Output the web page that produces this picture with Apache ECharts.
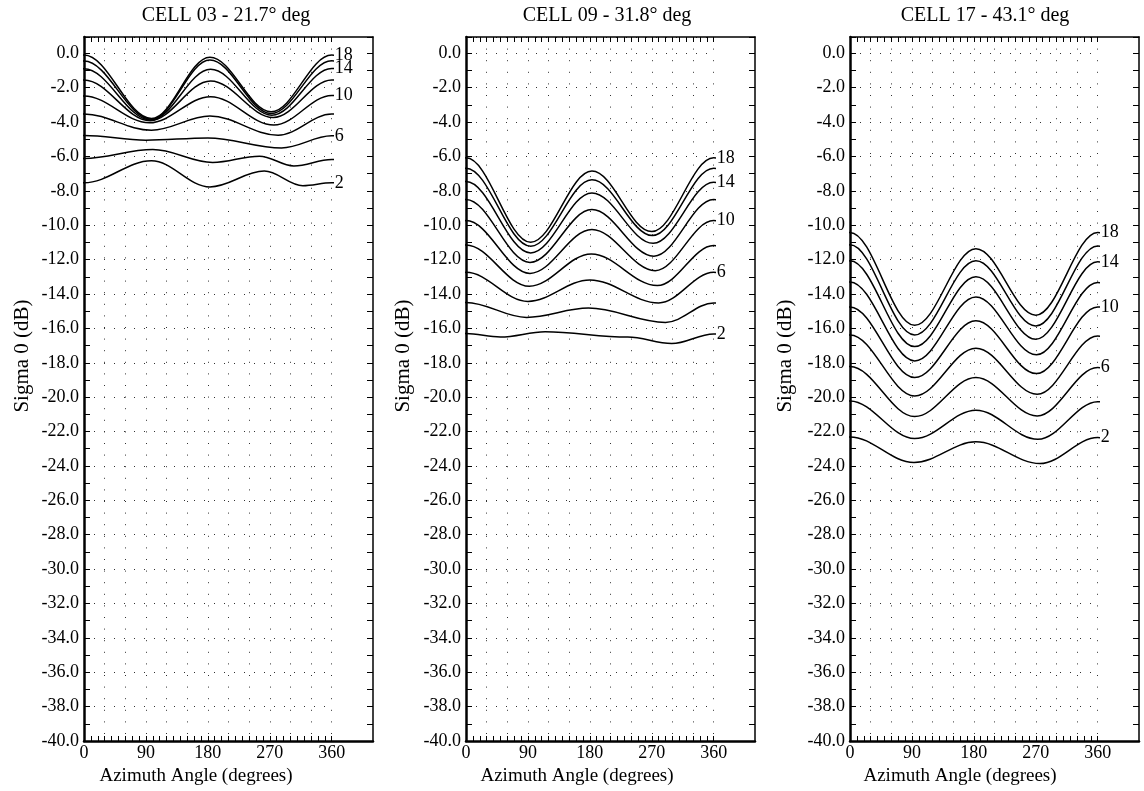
<!DOCTYPE html>
<html>
<head>
<meta charset="utf-8">
<script src="https://cdn.jsdelivr.net/npm/echarts@6/dist/echarts.min.js"></script>
<style>
html,body{margin:0;padding:0;background:#fff;}
#chart{width:1144px;height:791px;}
</style>
</head>
<body>
<div id="chart"></div>
<script>
// ---------- data ----------
const windSpeeds = [2, 4, 6, 8, 10, 12, 14, 16, 18];
const labeledWinds = [2, 6, 10, 14, 18];
const panelTitles = ['CELL 03 - 21.7\u00b0 deg', 'CELL 09 - 31.8\u00b0 deg', 'CELL 17 - 43.1\u00b0 deg'];
const xLabelValues = [0, 90, 180, 270, 360];
const xMinorTickValues = [0,10,20,30,40,50,60,70,80,90,100,110,120,130,140,150,160,170,180,190,200,210,220,230,240,250,260,270,280,290,300,310,320,330,340,350,360];
const yLabelStep = 2;

// CELL 03 : azimuth (deg) / sigma0 (dB) readings, one row per wind speed (2..18)
const cell03Az = [
  [0, 98, 183, 262, 318, 360],
  [0, 100, 187, 255, 305, 360],
  [0, 90, 180, 287, 360],
  [0, 98, 183, 282, 360],
  [0, 95, 184, 276, 360],
  [0, 96, 184, 275, 360],
  [0, 97, 184, 273, 360],
  [0, 98, 183, 272, 360],
  [0, 98, 183, 272, 360]
];
const cell03Db = [
  [-7.53, -6.25, -7.77, -6.85, -7.7, -7.53],
  [-6.12, -5.6, -6.35, -5.98, -6.55, -6.17],
  [-4.78, -5.05, -4.92, -5.5, -4.8],
  [-3.53, -4.47, -3.65, -4.76, -3.53],
  [-2.48, -4.04, -2.52, -4.17, -2.45],
  [-1.55, -3.92, -1.61, -3.73, -1.55],
  [-0.9, -3.88, -0.93, -3.6, -0.88],
  [-0.45, -3.83, -0.39, -3.5, -0.43],
  [-0.1, -3.79, -0.23, -3.4, -0.1]
];

// CELL 09
const cell09Az = [
  [0, 50, 115, 235, 299, 360],
  [0, 88, 178, 290, 360],
  [0, 90, 180, 280, 360],
  [0, 92, 182, 278, 360],
  [0, 93, 183, 275, 360],
  [0, 93, 183, 273, 360],
  [0, 94, 183, 272, 360],
  [0, 94, 183, 271, 360],
  [0, 94, 183, 270, 360]
];
const cell09Db = [
  [-16.3, -16.5, -16.2, -16.5, -16.88, -16.32],
  [-14.49, -15.36, -14.82, -15.65, -14.52],
  [-12.74, -14.43, -13.18, -14.52, -12.74],
  [-11.15, -13.55, -11.67, -13.51, -11.18],
  [-9.73, -12.8, -10.25, -12.64, -9.73],
  [-8.5, -12.16, -9.09, -11.8, -8.5],
  [-7.46, -11.61, -8.12, -11.05, -7.5],
  [-6.68, -11.22, -7.36, -10.6, -6.68],
  [-6.08, -10.99, -6.85, -10.37, -6.08]
];

// CELL 17
const cell17Az = [
  [0, 93, 183, 276, 360],
  [0, 94, 183, 273, 360],
  [0, 94, 183, 272, 360],
  [0, 94, 183, 272, 360],
  [0, 94, 183, 271, 360],
  [0, 94, 183, 271, 360],
  [0, 94, 183, 270, 360],
  [0, 94, 183, 270, 360],
  [0, 94, 183, 270, 360]
];
const cell17Db = [
  [-22.31, -23.8, -22.6, -23.86, -22.35],
  [-20.22, -22.41, -20.76, -22.45, -20.26],
  [-18.22, -21.13, -18.86, -21.09, -18.28],
  [-16.38, -19.93, -17.15, -19.83, -16.44],
  [-14.75, -18.86, -15.56, -18.63, -14.75],
  [-13.3, -17.89, -14.17, -17.54, -13.33],
  [-12.07, -17.06, -13.0, -16.63, -12.13],
  [-11.14, -16.38, -12.07, -15.86, -11.2],
  [-10.42, -15.82, -11.36, -15.23, -10.42]
];

const panelAz = [cell03Az, cell09Az, cell17Az];
const panelDb = [cell03Db, cell09Db, cell17Db];

// ---------- layout / style ----------
const SERIF = '"Liberation Serif","DejaVu Serif",serif';
const gridLefts = [84, 466, 850];
const gridTop = 37, gridHeight = 704, gridWidth = 289;
const X_MAX = 420, Y_MIN = -40, Y_MAX = 0.95;
const xNameCenters = [196, 577, 960];
const titleCenters = [226, 607, 985];
const yNameX = [22, 403, 785];

// Azimuth is periodic: the readings next to 0/360 are continued past the
// plot edges so the curve leaves the edges smoothly (the plot clips at 0 and 360).
function buildLine(az, db) {
  const pts = az.map((a, k) => [a, db[k]]);
  const inner = pts.filter(p => p[0] > 0 && p[0] < 360);
  const first = inner[0], last = inner[inner.length - 1];
  return [[last[0] - 360, last[1]]].concat(pts, [[first[0] + 360, first[1]]]);
}

const chart = echarts.init(document.getElementById('chart'), null, {renderer: 'canvas'});

const grid = [], xAxis = [], yAxis = [], series = [], title = [], graphic = [];

for (let p = 0; p < 3; p++) {
  const L = gridLefts[p];
  const gMain = grid.length;
  grid.push({left: L, top: gridTop, width: gridWidth, height: gridHeight, containLabel: false});
  const gDots = grid.length;
  grid.push({left: L, top: gridTop, width: gridWidth * 360 / X_MAX, height: gridHeight, containLabel: false});

  xAxis.push({
    type: 'value', gridIndex: gMain, position: 'bottom', min: 0, max: X_MAX, interval: 10,
    axisLine: {show: true, onZero: false, lineStyle: {color: '#000', width: 2.5}},
    axisTick: {show: true, inside: true, length: 5, lineStyle: {color: '#000', width: 1}, customValues: xMinorTickValues},
    axisLabel: {show: true, customValues: xLabelValues, color: '#000', fontFamily: SERIF, fontSize: 18, margin: 3},
    splitLine: {show: false}
  });
  xAxis.push({
    type: 'value', gridIndex: gMain, position: 'top', min: 0, max: X_MAX, interval: 10,
    axisLine: {show: true, onZero: false, lineStyle: {color: '#000', width: 1.5}},
    axisTick: {show: true, inside: true, length: 5, lineStyle: {color: '#000', width: 1}, customValues: xMinorTickValues},
    axisLabel: {show: false},
    splitLine: {show: false}
  });
  const xd = xAxis.length;
  xAxis.push({
    type: 'value', gridIndex: gDots, position: 'bottom', min: 0, max: 360, interval: 30,
    axisLine: {show: false}, axisTick: {show: false}, axisLabel: {show: false},
    splitLine: {show: true, lineStyle: {color: '#333', width: 1, type: [1, 10.6], cap: 'butt'}}
  });

  yAxis.push({
    type: 'value', gridIndex: gMain, position: 'left', min: Y_MIN, max: Y_MAX, interval: 1,
    axisLine: {show: true, onZero: false, lineStyle: {color: '#000', width: 2.5}},
    axisTick: {show: true, inside: true, length: 6, lineStyle: {color: '#000', width: 1}},
    axisLabel: {
      show: true, color: '#000', fontFamily: SERIF, fontSize: 18, margin: 5,
      formatter: function (v) {
        const r = Math.round(v * 100) / 100;
        if (Math.abs(r - Math.round(r)) > 1e-6) return '';
        if (Math.round(r) % yLabelStep !== 0) return '';
        return r.toFixed(1);
      }
    },
    splitLine: {show: false}
  });
  yAxis.push({
    type: 'value', gridIndex: gMain, position: 'right', min: Y_MIN, max: Y_MAX, interval: 1,
    axisLine: {show: true, onZero: false, lineStyle: {color: '#000', width: 1.5}},
    axisTick: {show: true, inside: true, length: 6, lineStyle: {color: '#000', width: 1}},
    axisLabel: {show: false},
    splitLine: {show: false}
  });
  const yd = yAxis.length;
  yAxis.push({
    type: 'value', gridIndex: gDots, position: 'left', min: Y_MIN, max: Y_MAX, interval: 2,
    axisLine: {show: false}, axisTick: {show: false}, axisLabel: {show: false},
    splitLine: {show: true, lineStyle: {color: '#333', width: 1, type: [1, 9], cap: 'butt'}}
  });

  const labelPts = [];
  for (let w = 0; w < windSpeeds.length; w++) {
    const az = panelAz[p][w];
    const db = panelDb[p][w];
    const ws = windSpeeds[w];
    series.push({
      type: 'line', xAxisIndex: xd, yAxisIndex: yd,
      data: buildLine(az, db),
      showSymbol: false, symbol: 'none', clip: true,
      smooth: 0.36, smoothMonotone: 'x',
      lineStyle: {color: '#000', width: 1.5},
      silent: true, z: 5
    });
    if (labeledWinds.indexOf(ws) >= 0) {
      labelPts.push({value: [az[az.length - 1], db[db.length - 1]], name: String(ws)});
    }
  }
  series.push({
    type: 'scatter', xAxisIndex: xd, yAxisIndex: yd, clip: false, silent: true,
    symbolSize: 0, data: labelPts, z: 6,
    itemStyle: {opacity: 1},
    label: {show: true, position: 'right', distance: 3, formatter: '{b}', color: '#000', opacity: 1, fontFamily: SERIF, fontSize: 18}
  });

  title.push({
    text: panelTitles[p], left: titleCenters[p], top: 6, textAlign: 'center', padding: 0,
    textStyle: {fontFamily: SERIF, fontSize: 20, fontWeight: 'normal', color: '#000'}
  });

  graphic.push({
    type: 'text', x: xNameCenters[p], y: 776,
    style: {text: 'Azimuth Angle (degrees)', font: '19px ' + SERIF, fill: '#000', align: 'center', verticalAlign: 'middle'}
  });
  graphic.push({
    type: 'text', x: yNameX[p], y: 356, rotation: Math.PI / 2,
    style: {text: 'Sigma 0 (dB)', font: '21px ' + SERIF, fill: '#000', align: 'center', verticalAlign: 'middle'}
  });
}

chart.setOption({
  animation: false,
  backgroundColor: '#fff',
  title: title,
  grid: grid,
  xAxis: xAxis,
  yAxis: yAxis,
  series: series,
  graphic: graphic
});
</script>
</body>
</html>
